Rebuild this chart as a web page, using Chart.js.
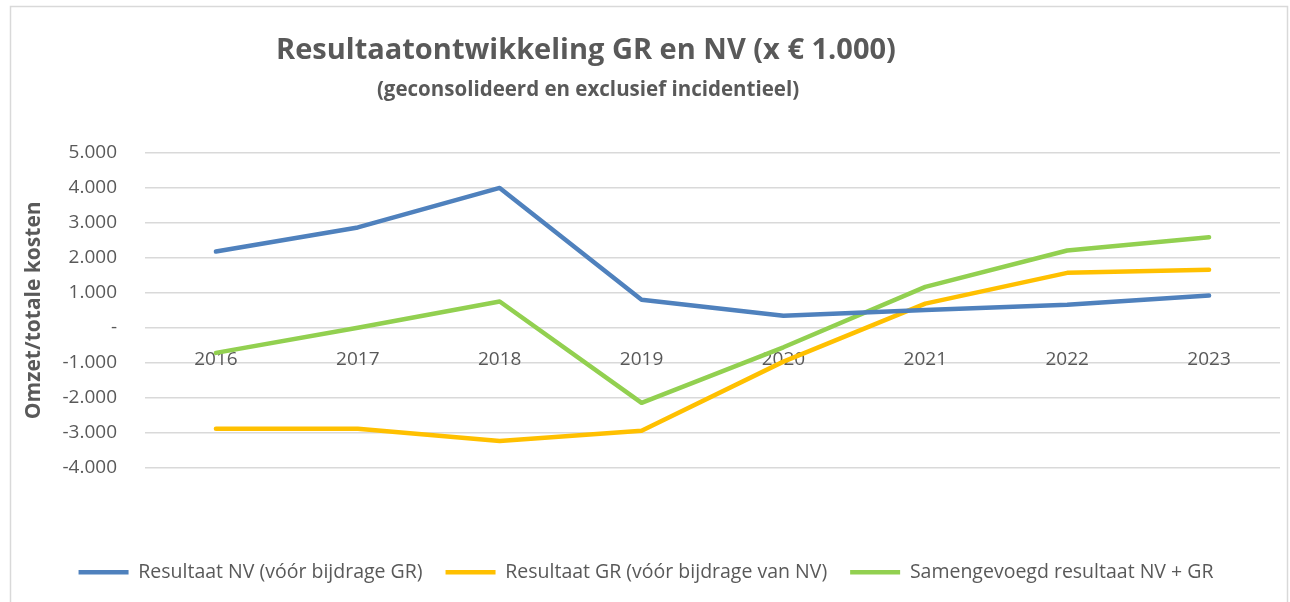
<!DOCTYPE html>
<html>
<head>
<meta charset="utf-8">
<script src="https://cdn.jsdelivr.net/npm/chart.js@4/dist/chart.umd.min.js"></script>
<style>
  html, body { margin: 0; padding: 0; background: #ffffff; }
  #wrap { width: 1290px; height: 602px; position: relative; }
</style>
</head>
<body>
<div id="wrap"><canvas id="c" width="1290" height="602"></canvas></div>
<script>
const categories = ['2016', '2017', '2018', '2019', '2020', '2021', '2022', '2023'];
const resultaatNV = [2180, 2870, 4000, 800, 340, 510, 660, 920];
const resultaatGR = [-2890, -2890, -3240, -2950, -970, 690, 1570, 1660];
const samengevoegd = [-720, 0, 750, -2150, -560, 1170, 2210, 2590];
const seriesNames = ['Resultaat NV (vóór bijdrage GR)', 'Resultaat GR (vóór bijdrage van NV)', 'Samengevoegd resultaat NV + GR'];
const titleText = 'Resultaatontwikkeling GR en NV (x € 1.000)';
const subtitleText = '(geconsolideerd en exclusief incidentieel)';
const yAxisTitle = 'Omzet/totale kosten';
const yMin = -4000, yMax = 5000, yStep = 1000;

const FONT = "'Open Sans', sans-serif";
const TEXT = '#595959';

function fmt(v) {
  if (v === 0) return '-';
  const s = Math.abs(v).toString().replace(/\B(?=(\d{3})+(?!\d))/g, '.');
  return (v < 0 ? '-' : '') + s;
}

const frameAndTitle = {
  id: 'frameAndTitle',
  beforeDraw(chart) {
    const ctx = chart.ctx;
    ctx.save();
    ctx.fillStyle = '#ffffff';
    ctx.fillRect(0, 0, chart.width, chart.height);
    ctx.strokeStyle = '#d9d9d9';
    ctx.lineWidth = 1.5;
    ctx.beginPath();
    ctx.moveTo(10.5, chart.height + 2);
    ctx.lineTo(10.5, 6.5);
    ctx.lineTo(1287.5, 6.5);
    ctx.lineTo(1287.5, chart.height + 2);
    ctx.stroke();
    ctx.restore();
  },
  afterDraw(chart) {
    const ctx = chart.ctx;
    ctx.save();
    ctx.fillStyle = TEXT;
    ctx.textAlign = 'center';
    ctx.textBaseline = 'middle';
    ctx.font = "bold 29px " + FONT;
    ctx.fillText(titleText, 586, 51);
    ctx.font = "bold 20.5px " + FONT;
    ctx.fillText(subtitleText, 588, 90);
    ctx.restore();
  }
};

const common = { fill: false, borderWidth: 4.5, pointRadius: 0, pointHoverRadius: 0, tension: 0,
  borderCapStyle: 'round', borderJoinStyle: 'round', xAxisID: 'x', yAxisID: 'y' };

new Chart(document.getElementById('c'), {
  type: 'line',
  data: {
    labels: categories,
    datasets: [
      Object.assign({ label: seriesNames[0], data: resultaatNV, borderColor: '#4F81BD', backgroundColor: '#4F81BD' }, common),
      Object.assign({ label: seriesNames[1], data: resultaatGR, borderColor: '#FFC000', backgroundColor: '#FFC000' }, common),
      Object.assign({ label: seriesNames[2], data: samengevoegd, borderColor: '#92D050', backgroundColor: '#92D050' }, common)
    ]
  },
  options: {
    responsive: false,
    animation: false,
    devicePixelRatio: 1,
    layout: { padding: { top: 153, left: 12, right: 10, bottom: 10 } },
    plugins: {
      title: { display: false },
      tooltip: { enabled: false },
      legend: {
        position: 'bottom',
        labels: {
          usePointStyle: true,
          pointStyle: 'line',
          pointStyleWidth: 50,
          padding: 23,
          color: TEXT,
          font: { family: FONT, size: 19.5 }
        }
      }
    },
    scales: {
      x: {
        type: 'category',
        position: { y: 0 },
        offset: true,
        grid: { display: false, drawTicks: false },
        border: { display: false },
        ticks: { color: TEXT, font: { family: FONT, size: 19 }, padding: 20, maxRotation: 0, autoSkip: false }
      },
      xPad: {
        type: 'category',
        position: 'bottom',
        grid: { display: false, drawTicks: false },
        border: { display: false },
        ticks: { display: false },
        afterFit(s) { s.height = 72; }
      },
      y: {
        min: yMin, max: yMax,
        position: 'left',
        grid: { color: '#d9d9d9', lineWidth: 1.5, drawTicks: false },
        border: { display: false },
        ticks: { stepSize: yStep, color: TEXT, font: { family: FONT, size: 19 }, padding: 28, callback: (v) => fmt(v) },
        title: { display: true, text: yAxisTitle, color: TEXT, font: { family: FONT, size: 21, weight: 'bold' }, padding: { top: 9, bottom: 0 } },
        afterFit(s) { s.width = 133; }
      }
    }
  },
  plugins: [frameAndTitle]
});
</script>
</body>
</html>
